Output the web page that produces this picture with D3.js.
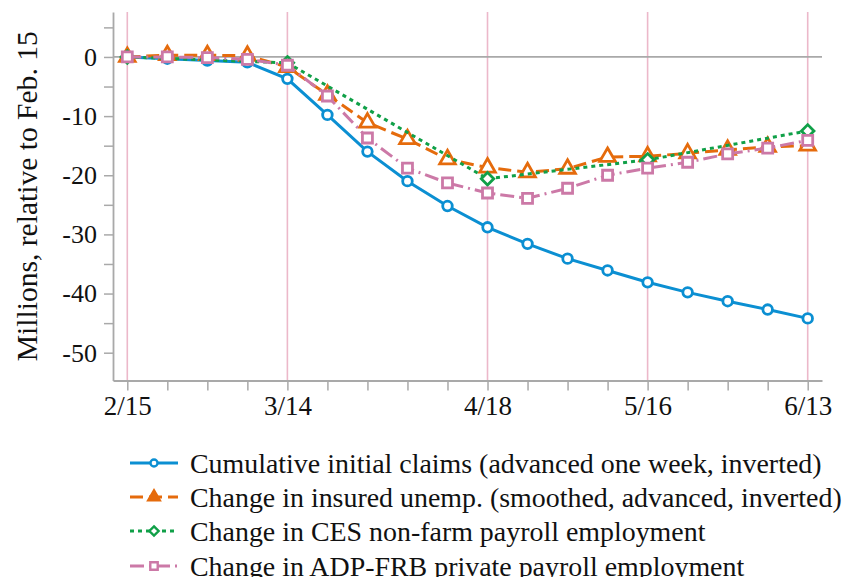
<!DOCTYPE html>
<html>
<head>
<meta charset="utf-8">
<script src="https://cdn.jsdelivr.net/npm/d3@7"></script>
<style>
  body { margin: 0; background: #fff; }
  svg { display: block; font-family: "Liberation Serif", "Times New Roman", serif; }
</style>
</head>
<body>
<div id="chart"></div>
<script>
// weekly dates (2020)
const weeks = ["2020-02-15","2020-02-22","2020-02-29","2020-03-07","2020-03-14","2020-03-21",
  "2020-03-28","2020-04-04","2020-04-11","2020-04-18","2020-04-25","2020-05-02","2020-05-09",
  "2020-05-16","2020-05-23","2020-05-30","2020-06-06","2020-06-13"];
const majorWeeks = ["2020-02-15","2020-03-14","2020-04-18","2020-05-16","2020-06-13"];
const majorLabels = ["2/15","3/14","4/18","5/16","6/13"];

const claims = [0,-0.3,-0.6,-0.9,-3.7,-9.8,-16.0,-21.0,-25.2,-28.8,-31.6,-34.1,-36.1,-38.1,-39.8,-41.3,-42.7,-44.2];
const insured = [0,0.3,0.3,0.2,-1.7,-6.4,-11.1,-13.9,-17.3,-18.7,-19.5,-18.9,-16.9,-16.8,-16.3,-15.7,-15.2,-15.0];
const cesDates = ["2020-02-15","2020-03-14","2020-04-18","2020-05-16","2020-06-13"];
const ces = [0,-1.0,-20.6,-17.4,-12.5];
const adp = [0,0,-0.1,-0.4,-1.4,-6.6,-13.7,-18.8,-21.3,-23.0,-23.9,-22.2,-20.0,-18.8,-17.8,-16.4,-15.4,-14.1];

const yMajor = [0,-10,-20,-30,-40,-50];
const yMinor = [5,-5,-15,-25,-35,-45];

const legendNames = [
  "Cumulative initial claims (advanced one week, inverted)",
  "Change in insured unemp. (smoothed, advanced, inverted)",
  "Change in CES non-farm payroll employment",
  "Change in ADP-FRB private payroll employment"
];

const W = 847, H = 577;
const parse = d3.utcParse("%Y-%m-%d");

const svg = d3.select("#chart").append("svg")
  .attr("width", W).attr("height", H);

const x = d3.scaleUtc()
  .domain([parse("2020-02-12").getTime() + 12*3600e3, parse("2020-06-15").getTime() + 12*3600e3])
  .range([113, 822]);
const y = d3.scaleLinear().domain([-54.7, 7.6]).range([380.5, 12]);

const axisGray = "#a9a9a9";

// scale a text's font size so it spans the given width
function fitWidth(sel, target, start) {
  sel.style("font-size", start + "px");
  const w = sel.node().getComputedTextLength();
  const size = start * target / w;
  sel.style("font-size", size + "px");
  return size;
}

// pink vertical lines at month marks
svg.append("g").selectAll("line")
  .data(majorWeeks)
  .join("line")
  .attr("x1", d => x(parse(d))).attr("x2", d => x(parse(d)))
  .attr("y1", y.range()[1]).attr("y2", y.range()[0])
  .attr("stroke", "#ecb8ca").attr("stroke-width", 1.6);

// zero line
svg.append("line")
  .attr("x1", x.range()[0]).attr("x2", x.range()[1])
  .attr("y1", y(0)).attr("y2", y(0))
  .attr("stroke", axisGray).attr("stroke-width", 1.8);

// x axis
const xAxis = svg.append("g")
  .attr("transform", "translate(0," + y.range()[0] + ")")
  .call(d3.axisBottom(x)
    .tickValues(weeks.map(parse))
    .tickSize(10)
    .tickSizeOuter(0)
    .tickFormat(d => {
      const i = majorWeeks.indexOf(d3.utcFormat("%Y-%m-%d")(d));
      return i >= 0 ? majorLabels[i] : "";
    }));
xAxis.select(".domain").attr("stroke", axisGray).attr("stroke-width", 1.8);
xAxis.selectAll(".tick line").attr("stroke", axisGray).attr("stroke-width", 1.5);
xAxis.selectAll("text")
  .attr("y", 15)
  .style("font-family", "Liberation Serif")
  .style("font-size", "27px")
  .attr("fill", "#111");

// y axis
const yAxis = svg.append("g")
  .attr("transform", "translate(" + x.range()[0] + ",0)")
  .call(d3.axisLeft(y)
    .tickValues(yMajor.concat(yMinor))
    .tickSize(9)
    .tickSizeOuter(0)
    .tickFormat(d => yMajor.includes(d) ? String(d).replace("−", "-") : ""));
yAxis.select(".domain").attr("stroke", axisGray).attr("stroke-width", 1.8);
yAxis.selectAll(".tick line").attr("stroke", axisGray).attr("stroke-width", 1.5);
yAxis.selectAll("text")
  .attr("x", -16)
  .style("font-family", "Liberation Serif")
  .style("font-size", "26px")
  .attr("fill", "#111");

// y label
const yLabel = svg.append("text")
  .attr("transform", "translate(37," + ((y.range()[0] + y.range()[1]) / 2) + ") rotate(-90)")
  .attr("text-anchor", "middle")
  .attr("fill", "#111")
  .text("Millions, relative to Feb. 15");
fitWidth(yLabel, 330, 26);

const series = [
  { dates: weeks, vals: claims, color: "#0b8fd2", dash: null, sym: d3.symbolCircle, size: 72 },
  { dates: weeks, vals: insured, color: "#e56b0c", dash: "13,6", sym: d3.symbolTriangle, size: 105 },
  { dates: cesDates, vals: ces, color: "#10a048", dash: "4,4", sym: d3.symbolDiamond2, size: 100 },
  { dates: weeks, vals: adp, color: "#cc79a7", dash: "14,5,2,5", sym: d3.symbolSquare, size: 100 }
];

const line = d3.line()
  .x(d => x(d.date))
  .y(d => y(d.value));

series.forEach(s => {
  const pts = s.dates.map((d, i) => ({ date: parse(d), value: s.vals[i] }));
  svg.append("path")
    .datum(pts)
    .attr("fill", "none")
    .attr("stroke", s.color)
    .attr("stroke-width", 3)
    .attr("stroke-dasharray", s.dash)
    .attr("d", line);
  svg.append("g").selectAll("path")
    .data(pts)
    .join("path")
    .attr("transform", d => "translate(" + x(d.date) + "," + y(d.value) + ")")
    .attr("d", d3.symbol().type(s.sym).size(s.size))
    .attr("fill", "#fff")
    .attr("stroke", s.color)
    .attr("stroke-width", 2.8);
});

// legend
const legend = svg.append("g");
const rowY = [463, 497, 531, 566];
let legendSize = null;
series.forEach((s, i) => {
  const g = legend.append("g").attr("transform", "translate(0," + rowY[i] + ")");
  g.append("line")
    .attr("x1", 130).attr("x2", 178)
    .attr("stroke", s.color).attr("stroke-width", 3)
    .attr("stroke-dasharray", s.dash);
  g.append("path")
    .attr("transform", "translate(154,0)")
    .attr("d", d3.symbol().type(s.sym).size(s.size * 0.55))
    .attr("fill", i === 1 ? s.color : "#fff")
    .attr("stroke", s.color)
    .attr("stroke-width", 2.4);
  const t = g.append("text")
    .attr("x", 190).attr("y", 9.5)
    .attr("fill", "#111")
    .text(legendNames[i]);
  if (i === 0) legendSize = fitWidth(t, 632, 24);
  else t.style("font-size", legendSize + "px");
});
</script>
</body>
</html>
